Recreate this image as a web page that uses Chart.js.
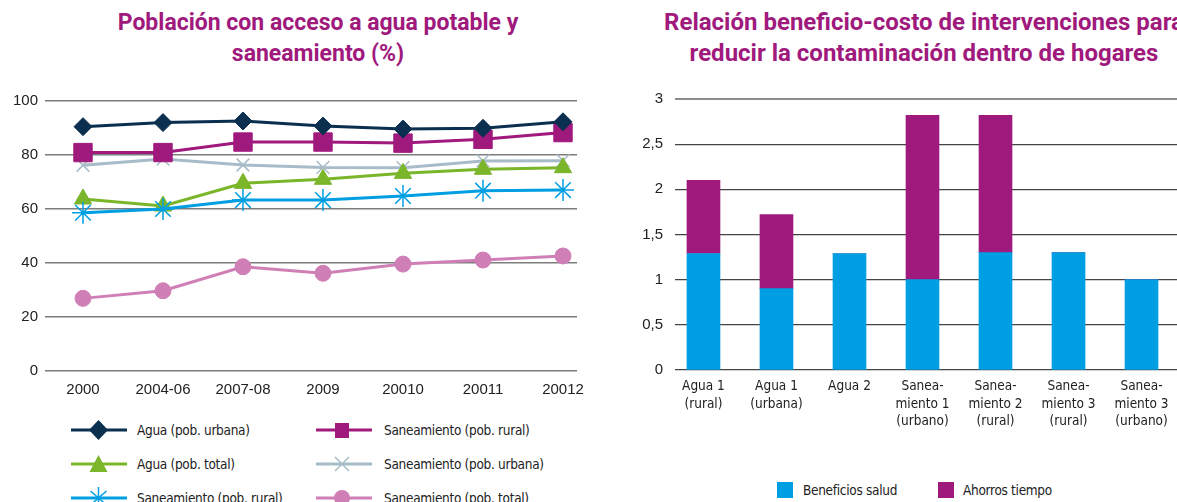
<!DOCTYPE html>
<html>
<head>
<meta charset="utf-8">
<script src="https://cdn.jsdelivr.net/npm/chart.js@4.4.0/dist/chart.umd.min.js"></script>
<style>
body { margin: 0; width: 1177px; height: 502px; overflow: hidden; background: #fff; position: relative;
       font-family: 'Liberation Sans Narrow', 'DejaVu Sans Condensed', sans-serif; color: #222; }
.title { position: absolute; top: 7px; width: 700px; font-family: Roboto, 'Liberation Sans', sans-serif;
         font-weight: 700; font-size: 23px; line-height: 31px; color: #a0197d; text-align: center; white-space: nowrap; }
.box { position: absolute; top: 0; }
.lg { position: absolute; font-size: 13.5px; letter-spacing: -0.3px; line-height: 18px; white-space: nowrap; }
.sw { position: absolute; width: 16px; height: 16px; }
</style>
</head>
<body>
<div class="title" style="left:-32px">Población con acceso a agua potable y<br>saneamiento (%)</div>
<div class="title" style="left:574px;font-size:24px">Relación beneficio-costo de intervenciones para<br>reducir la contaminación dentro de hogares</div>

<div class="box" style="left:0;width:600px;height:401px"><canvas id="lineChart" width="600" height="401"></canvas></div>
<div class="box" style="left:600px;width:577px;height:430px"><canvas id="barChart" width="577" height="430"></canvas></div>

<div id="lineLegend"></div>

<div class="sw" style="left:777px;top:482px;background:#009fe3"></div>
<div class="lg" style="left:803px;top:481px">Beneficios salud</div>
<div class="sw" style="left:938px;top:482px;background:#a0197d"></div>
<div class="lg" style="left:963px;top:481px">Ahorros tiempo</div>

<script>
// Left chart data
const years = ['2000', '2004-06', '2007-08', '2009', '20010', '20011', '20012'];
const aguaUrbana = [90.5, 92.0, 92.6, 90.7, 89.6, 89.9, 92.3];
const saneamientoRural = [80.9, 80.9, 84.8, 84.8, 84.4, 85.8, 88.3];
const saneamientoUrbana = [76.2, 78.5, 76.3, 75.4, 75.3, 77.8, 77.9];
const aguaTotal = [63.7, 61.1, 69.5, 71.0, 73.2, 74.7, 75.3];
const saneamientoRuralB = [58.6, 60.0, 63.3, 63.3, 64.8, 66.8, 67.0];
const saneamientoTotal = [26.9, 29.7, 38.6, 36.2, 39.6, 41.1, 42.6];
const pctTicks = [0, 20, 40, 60, 80, 100];

// Right chart data
const interventions = [
    ['Agua 1', '(rural)'], ['Agua 1', '(urbana)'], ['Agua 2'],
    ['Sanea-', 'miento 1', '(urbano)'], ['Sanea-', 'miento 2', '(rural)'],
    ['Sanea-', 'miento 3', '(rural)'], ['Sanea-', 'miento 3', '(urbano)']
];
const beneficiosSalud = [1.29, 0.90, 1.29, 1.00, 1.30, 1.30, 1.00];
const ahorrosTiempo = [0.81, 0.82, 0, 1.82, 1.52, 0, 0];
const ratioTicks = [0, 0.5, 1, 1.5, 2, 2.5, 3];

const C = {
    navy: '#0b2f4f', purple: '#a0197d', grey: '#a8bbc9',
    green: '#7ab52a', blue: '#009fe3', pink: '#d07fb6'
};

const asPoints = arr => arr.map((v, i) => ({ x: i, y: v }));

function lineSet(label, data, color, style, radius, extra) {
    return Object.assign({
        label: label,
        data: asPoints(data),
        borderColor: color,
        backgroundColor: color,
        borderWidth: 3,
        pointStyle: style,
        pointRadius: radius,
        pointBorderWidth: 1,
        pointBorderColor: color,
        tension: 0
    }, extra || {});
}

// first dataset ends up on top
const lineSets = [
    lineSet('Agua (pob. urbana)', aguaUrbana, C.navy, 'rectRot', 9),
    lineSet('Saneamiento (pob. rural)', saneamientoRuralB, C.blue, 'star', 11, { pointBorderWidth: 1.5 }),
    lineSet('Agua (pob. total)', aguaTotal, C.green, 'triangle', 10),
    lineSet('Saneamiento (pob. rural)', saneamientoRural, C.purple, 'rect', 13),
    lineSet('Saneamiento (pob. urbana)', saneamientoUrbana, C.grey, 'crossRot', 9, { pointBorderWidth: 1.5 }),
    lineSet('Saneamiento (pob. total)', saneamientoTotal, C.pink, 'circle', 8)
];

new Chart(document.getElementById('lineChart'), {
    type: 'line',
    data: { datasets: lineSets },
    options: {
        responsive: false,
        animation: false,
        layout: { padding: { top: 101, right: 23, left: 0, bottom: 0 } },
        plugins: { legend: { display: false }, tooltip: { enabled: false } },
        scales: {
            x: {
                type: 'linear', min: -0.475, max: 6.175,
                grid: { display: false, drawTicks: false }, border: { display: false },
                afterBuildTicks: s => { s.ticks = years.map((_, i) => ({ value: i })); },
                afterFit: s => { s.height = 30; },
                ticks: {
                    callback: v => years[v], padding: 10, color: '#222', maxRotation: 0, autoSkip: false,
                    font: { family: "'Liberation Sans', Arial, sans-serif", size: 15 }
                }
            },
            y: {
                min: 0, max: 100,
                afterBuildTicks: s => { s.ticks = pctTicks.map(v => ({ value: v })); },
                afterFit: s => { s.width = 45; },
                border: { display: false },
                grid: { color: '#7d7d7d', lineWidth: 1.5, drawTicks: false },
                ticks: { padding: 7, color: '#222', font: { family: "'Liberation Sans', Arial, sans-serif", size: 15 } }
            }
        }
    }
});

new Chart(document.getElementById('barChart'), {
    type: 'bar',
    data: {
        datasets: [
            { label: 'Beneficios salud', data: asPoints(beneficiosSalud), backgroundColor: C.blue, barThickness: 33 },
            { label: 'Ahorros tiempo', data: asPoints(ahorrosTiempo), backgroundColor: C.purple, barThickness: 33 }
        ]
    },
    options: {
        responsive: false,
        animation: false,
        layout: { padding: { top: 99, right: 0, left: 0, bottom: 0 } },
        plugins: { legend: { display: false }, tooltip: { enabled: false } },
        scales: {
            x: {
                type: 'linear', stacked: true, offset: false, min: -0.39, max: 6.486,
                grid: { display: false, drawTicks: false }, border: { display: false },
                afterBuildTicks: s => { s.ticks = interventions.map((_, i) => ({ value: i })); },
                afterFit: s => { s.height = 60; },
                ticks: {
                    callback: v => interventions[v], padding: 8, color: '#222', maxRotation: 0, autoSkip: false,
                    font: { family: "'Liberation Sans Narrow', 'DejaVu Sans Condensed', sans-serif", size: 13.5, lineHeight: 1.3 }
                }
            },
            y: {
                stacked: true, min: 0, max: 3,
                afterBuildTicks: s => { s.ticks = ratioTicks.map(v => ({ value: v })); },
                afterFit: s => { s.width = 75; },
                border: { display: false },
                grid: {
                    drawTicks: false,
                    color: c => c.tick && c.tick.value === 3 ? '#8c8c8c' : '#444',
                    lineWidth: c => c.tick && c.tick.value === 3 ? 2 : 1.3
                },
                ticks: {
                    padding: 12, color: '#222',
                    callback: v => String(v).replace('.', ','),
                    font: { family: "'Liberation Sans', Arial, sans-serif", size: 15 }
                }
            }
        }
    }
});

// Legend for the line chart (line + marker, two columns)
const markers = {
    rectRot: (c, x) => `<polygon points="${x},2 ${x + 9.5},12 ${x},22 ${x - 9.5},12" fill="${c}"/>`,
    rect: (c, x) => `<rect x="${x - 7}" y="5" width="14" height="15" fill="${c}"/>`,
    triangle: (c, x) => `<polygon points="${x},3 ${x + 9},20 ${x - 9},20" fill="${c}"/>`,
    crossRot: (c, x) => `<path d="M${x - 7} 5 L${x + 7} 19 M${x + 7} 5 L${x - 7} 19" stroke="${c}" stroke-width="1.5"/>`,
    star: (c, x) => `<path d="M${x} 1 L${x} 23 M${x - 8} 5 L${x + 8} 19 M${x + 8} 5 L${x - 8} 19" stroke="${c}" stroke-width="1.5"/>`,
    circle: (c, x) => `<circle cx="${x}" cy="12" r="8" fill="${c}"/>`
};
const legendItems = [
    { label: 'Agua (pob. urbana)', color: C.navy, style: 'rectRot', col: 0, row: 0 },
    { label: 'Saneamiento (pob. rural)', color: C.purple, style: 'rect', col: 1, row: 0 },
    { label: 'Agua (pob. total)', color: C.green, style: 'triangle', col: 0, row: 1 },
    { label: 'Saneamiento (pob. urbana)', color: C.grey, style: 'crossRot', col: 1, row: 1 },
    { label: 'Saneamiento (pob. rural)', color: C.blue, style: 'star', col: 0, row: 2 },
    { label: 'Saneamiento (pob. total)', color: C.pink, style: 'circle', col: 1, row: 2 }
];
const colX = [71, 316], rowY = [430, 464, 498], textX = [137, 384];
const lg = document.getElementById('lineLegend');
legendItems.forEach(it => {
    const y = rowY[it.row], x = colX[it.col];
    const mx = it.col === 0 ? 27.5 : 26;
    lg.insertAdjacentHTML('beforeend',
        `<svg width="57" height="24" style="position:absolute;left:${x}px;top:${y - 12}px">` +
        `<line x1="0" y1="12" x2="56" y2="12" stroke="${it.color}" stroke-width="3"/>` +
        markers[it.style](it.color, mx) + `</svg>` +
        `<div class="lg" style="left:${textX[it.col]}px;top:${y - 9}px">${it.label}</div>`);
});
</script>
</body>
</html>
